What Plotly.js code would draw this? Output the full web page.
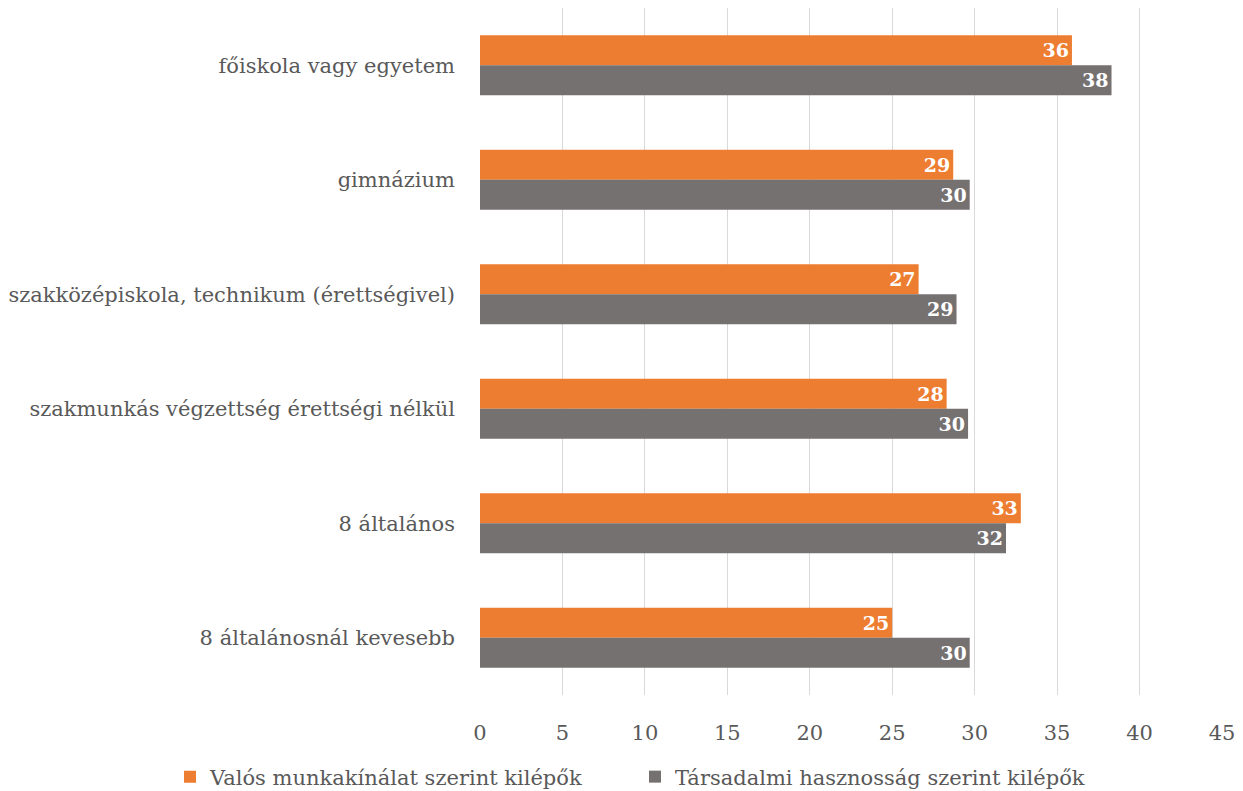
<!DOCTYPE html>
<html><head><meta charset="utf-8">
<script src="https://cdn.plot.ly/plotly-3.0.1.min.js"></script>
<style>html,body{margin:0;padding:0;background:#fff}#chart{width:1243px;height:791px}</style>
</head><body><div id="chart"></div>
<script>
const categories = ['főiskola vagy egyetem','gimnázium','szakközépiskola, technikum (érettségivel)','szakmunkás végzettség érettségi nélkül','8 általános','8 általánosnál kevesebb'];
const seriesNames = ['Valós munkakínálat szerint kilépők','Társadalmi hasznosság szerint kilépők'];
const valosValues = [35.9, 28.7, 26.6, 28.3, 32.8, 25.0];
const tarsadalmiValues = [38.3, 29.7, 28.9, 29.6, 31.9, 29.7];
const tickVals = [0,5,10,15,20,25,30,35,40,45];

const FONT = "'DejaVu Serif', 'Liberation Serif', serif";
function mk(name, vals, color, lw){
  const t = {type:'bar', orientation:'h', name:name, y:categories, x:vals,
    marker:{color:color}, text:vals.map(v=>String(Math.round(v))),
    textposition:'inside', insidetextanchor:'end', textangle:0,
    textfont:{family:FONT, size:19, color:'#ffffff', weight:'bold'},
    hoverinfo:'x+y'};
  if (lw) t.legendwidth = lw;
  return t;
}
const data = [mk(seriesNames[0], valosValues, '#ed7d31', 420), mk(seriesNames[1], tarsadalmiValues, '#767171')];
const layout = {
  width:1243, height:791,
  margin:{l:480, r:21, t:8, b:96, autoexpand:false},
  barmode:'group', bargap:0.476, bargroupgap:0,
  font:{family:FONT, size:21, color:'#595959'},
  xaxis:{range:[0,45], tickvals:tickVals, showgrid:true, gridcolor:'#d9d9d9', gridwidth:1,
    zeroline:false, showline:false, ticks:'', ticklabelstandoff:23, tickfont:{size:21, color:'#595959'}},
  yaxis:{autorange:'reversed', showgrid:false, zeroline:false, showline:false, ticks:'',
    ticklabelstandoff:24, tickfont:{size:21, color:'#595959'}},
  showlegend:true,
  legend:{orientation:'h', x:-0.4178, xanchor:'left', y:-0.0895, yanchor:'top',
    font:{size:21, color:'#595959'}, itemwidth:30, tracegroupgap:0},
  plot_bgcolor:'#fff', paper_bgcolor:'#fff'
};
Plotly.newPlot('chart', data, layout, {displayModeBar:false});
</script></body></html>
